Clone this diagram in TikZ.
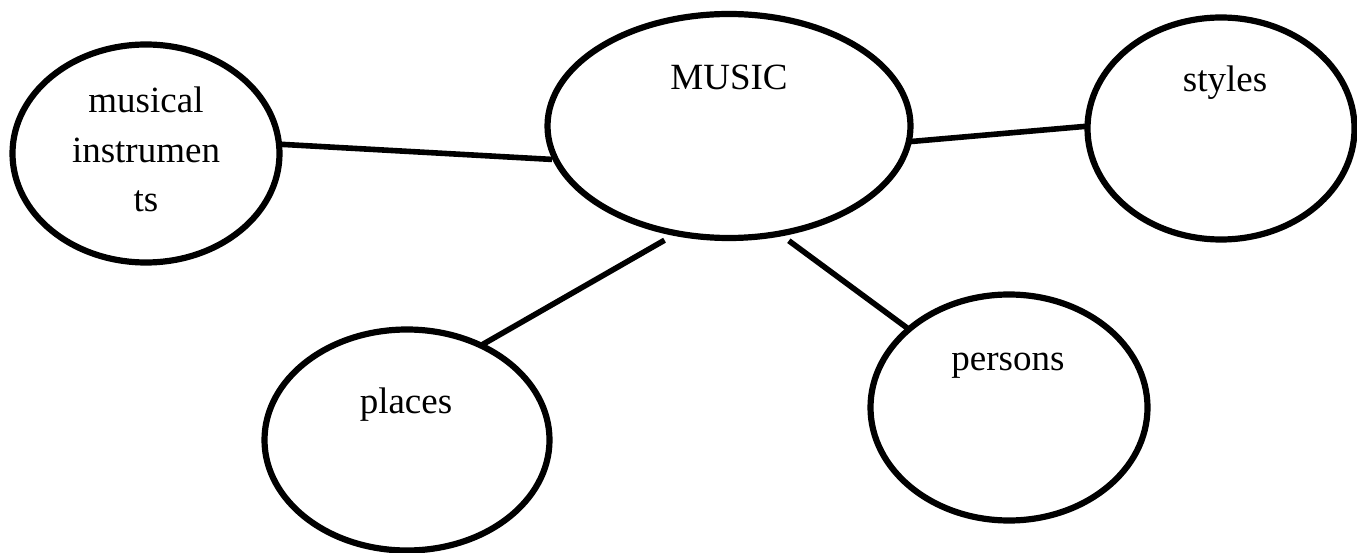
\documentclass[tikz,border=0pt]{standalone}
\usepackage{fontspec}
\setmainfont{Liberation Serif}
\usetikzlibrary{shapes.geometric}
\begin{document}
\begin{tikzpicture}[x=1pt,y=-1pt,
  bubble/.style={draw=black,line width=6.2pt,ellipse,inner sep=0pt,outer sep=0pt},
  link/.style={draw=black,line width=5.6pt},
  lbl/.style={font=\fontsize{37}{49.5}\selectfont,inner sep=0pt,anchor=base,align=center}]
\path[use as bounding box,clip] (0,0) rectangle (1357,553);
\fill[white] (0,0) rectangle (1357,553);
\node[bubble,minimum width=363pt,minimum height=224pt] (mus) at (729,126) {};
\node[bubble,minimum width=267pt,minimum height=218pt] (ins) at (146,153.5) {};
\node[bubble,minimum width=267pt,minimum height=222pt] (sty) at (1221,128.5) {};
\node[bubble,minimum width=285pt,minimum height=221pt] (pla) at (407,440) {};
\node[bubble,minimum width=277pt,minimum height=226pt] (per) at (1009,407.5) {};
\node[lbl] (tmus) at (729,90) {MUSIC};
\node[lbl] (tins) at (146,212) {musical\\instrumen\\ts};
\node[lbl] (tsty) at (1225,92) {styles};
\node[lbl] (tpla) at (406,413) {places};
\node[lbl] (tper) at (1008,370) {persons};
\draw[link,shorten >=4pt] (ins.4) -- (mus.191);
\draw[link] (mus.-5) -- (sty.179);
\draw[link,shorten <=14pt] (mus.244) -- (pla.52);
\draw[link,shorten <=12pt] (mus.295) -- (per.142);
\end{tikzpicture}
\end{document}
